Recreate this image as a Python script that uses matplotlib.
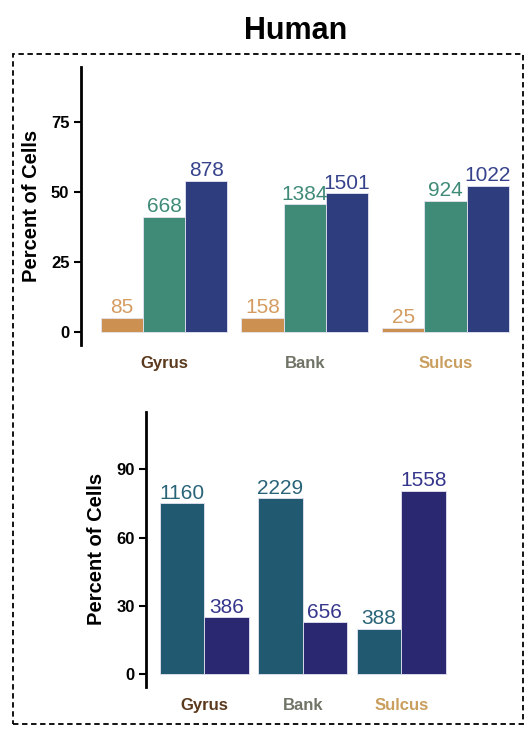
import matplotlib
matplotlib.use('Agg')
import matplotlib.pyplot as plt
from matplotlib.patches import Rectangle
import numpy as np

plt.rcParams['font.family'] = ['Liberation Sans', 'DejaVu Sans']

# Data
regions = ['Gyrus', 'Bank', 'Sulcus']
region_colors = ['#5B3A1E', '#6F7466', '#C99E5E']

top_pct = {
    'orange': [5.0, 5.0, 1.4],
    'green': [40.9, 45.5, 46.8],
    'blue': [53.8, 49.4, 52.0],
}
top_counts = {
    'orange': [85, 158, 25],
    'green': [668, 1384, 924],
    'blue': [878, 1501, 1022],
}
top_bar_colors = {'orange': '#CC9150', 'green': '#3F8B78', 'blue': '#2E3D7E'}
top_text_colors = {'orange': '#D49C62', 'green': '#3F8B78', 'blue': '#36438C'}

bot_pct = {
    'teal': [75.0, 77.2, 19.9],
    'navy': [25.0, 22.8, 80.4],
}
bot_counts = {
    'teal': [1160, 2229, 388],
    'navy': [386, 656, 1558],
}
bot_bar_colors = {'teal': '#215A70', 'navy': '#292870'}
bot_text_colors = {'teal': '#2A6478', 'navy': '#36368C'}

W, H = 530, 730
fig = plt.figure(figsize=(W / 100, H / 100), dpi=100)


def px_axes(left, top, right, bottom):
    return fig.add_axes([left / W, 1 - bottom / H, (right - left) / W, (bottom - top) / H])


def style_axes(ax, yticks, ylim, xlim):
    ax.set_xlim(*xlim)
    ax.set_ylim(*ylim)
    for s in ['top', 'right', 'bottom']:
        ax.spines[s].set_visible(False)
    ax.spines['left'].set_linewidth(2)
    ax.set_yticks(yticks)
    ax.tick_params(axis='y', length=5, width=1.5, labelsize=12, pad=3)
    for lab in ax.get_yticklabels():
        lab.set_fontweight('bold')
    x = np.arange(len(regions))
    ax.set_xticks(x)
    ax.set_xticklabels(regions, fontsize=12, fontweight='bold')
    ax.tick_params(axis='x', length=0, pad=8)
    for lab, c in zip(ax.get_xticklabels(), region_colors):
        lab.set_color(c)
    ax.set_ylabel('Percent of Cells', fontsize=14.5, fontweight='bold')
    ax.yaxis.label.set_verticalalignment('center')


def draw_bars(ax, pct, counts, bar_colors, text_colors, width):
    x = np.arange(len(regions))
    keys = list(pct.keys())
    n = len(keys)
    for i, k in enumerate(keys):
        xs = x + (i - (n - 1) / 2) * width
        ax.bar(xs, pct[k], width=width, color=bar_colors[k],
               edgecolor='#E4E4F2', linewidth=0.6)
        for xi, h, c in zip(xs, pct[k], counts[k]):
            ax.annotate(str(c), (xi, h), xytext=(0, 0.5), textcoords='offset points',
                        ha='center', va='bottom', fontsize=15, color=text_colors[k])


# Top panel
ax1 = px_axes(80.5, 67, 520, 345)
draw_bars(ax1, top_pct, top_counts, top_bar_colors, top_text_colors, 0.3)
style_axes(ax1, [0, 25, 50, 75], (-4.75, 94.5), (-0.593, 2.53))
ax1.yaxis.set_label_coords((32 - 80.5) / (520 - 80.5), 0.5)

# Bottom panel
ax2 = px_axes(146, 411.7, 480, 686.7)
draw_bars(ax2, bot_pct, bot_counts, bot_bar_colors, bot_text_colors, 0.45)
style_axes(ax2, [0, 30, 60, 90], (-5.4, 115.2), (-0.591, 2.80))
ax2.yaxis.set_label_coords((97 - 146) / (480 - 146), 0.5)

# Title and dashed frame
fig.text(296 / W, 1 - 39 / H, 'Human', ha='center', va='baseline',
         fontsize=22, fontweight='bold')
fig.patches.append(Rectangle((13.3 / W, 1 - 724.3 / H), (523.3 - 13.3) / W, (724.3 - 54.3) / H,
                             transform=fig.transFigure, fill=False, edgecolor='black',
                             linewidth=1.3, linestyle=(0, (3, 2))))

fig.savefig('out.png', dpi=100)
